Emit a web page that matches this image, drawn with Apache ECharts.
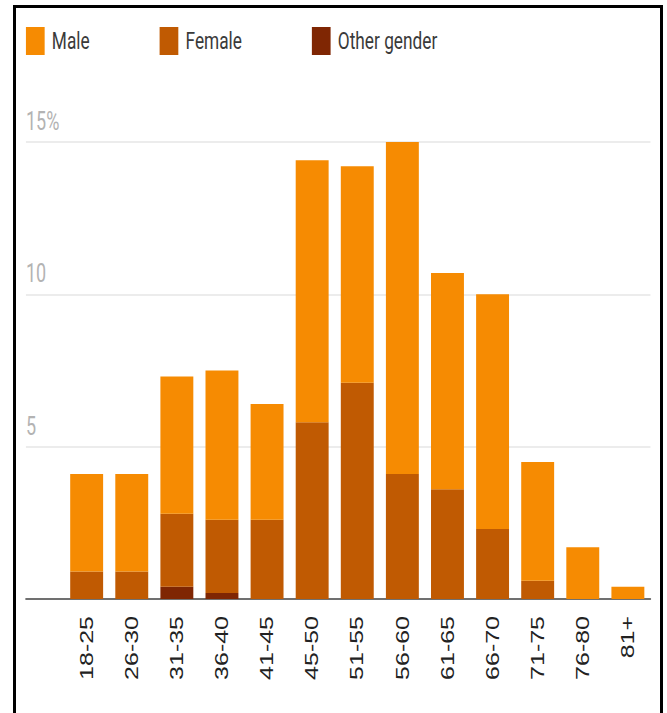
<!DOCTYPE html>
<html>
<head>
<meta charset="utf-8">
<script src="https://cdn.jsdelivr.net/npm/echarts@6/dist/echarts.min.js"></script>
<style>
  html, body { margin: 0; padding: 0; background: #fff; }
  #stage { position: relative; width: 667px; height: 713px; overflow: hidden; background: #fff; }
  /* chart is laid out on a wider canvas and squeezed horizontally */
  #chart { position: absolute; left: 0; top: 0; width: 926px; height: 713px;
           transform: scaleX(0.7203); transform-origin: 0 0; }
  #frame { position: absolute; left: 13px; top: 5px; width: 650px; height: 760px;
           box-sizing: border-box; border: 3px solid #000; pointer-events: none; }
</style>
</head>
<body>
<div id="stage">
  <div id="chart"></div>
  <div id="frame"></div>
</div>
<script>
// Share of respondents (%) by age group and gender
const categories = ['18-25', '26-30', '31-35', '36-40', '41-45', '45-50', '51-55',
                    '56-60', '61-65', '66-70', '71-75', '76-80', '81+'];
const male   = [3.2, 3.2, 4.5, 4.9, 3.8, 8.6, 7.1, 10.9, 7.1, 7.7, 3.9, 1.7, 0.4];
const female = [0.9, 0.9, 2.4, 2.4, 2.6, 5.8, 7.1, 4.1, 3.6, 2.3, 0.6, 0, 0];
const other  = [0, 0, 0.4, 0.2, 0, 0, 0, 0, 0, 0, 0, 0, 0];
const yMax = 15;
const yStep = 5;

const colors = { male: '#f68b02', female: '#c05a02', other: '#7f2603' };

const chart = echarts.init(document.getElementById('chart'), null, { renderer: 'svg' });

chart.setOption({
  backgroundColor: '#fff',
  animation: false,
  legend: {
    data: ['Male', 'Female', 'Other gender'],
    left: 36,
    top: 27,
    padding: 0,
    icon: 'rect',
    itemWidth: 26,
    itemHeight: 28,
    itemGap: 97,
    textStyle: { fontFamily: 'Roboto', fontSize: 24, color: '#3a3a3a', padding: [0, 0, 0, 5] }
  },
  grid: [
    // background grid: gridlines, value labels and baseline
    { left: 36, right: 23, top: 142, bottom: 114 },
    // bar grid
    { left: 89, right: 23, top: 142, bottom: 114 }
  ],
  xAxis: [
    {
      gridIndex: 0, type: 'value', min: 0, max: 1,
      axisLine: { show: true, lineStyle: { color: '#707070', width: 2 } },
      axisTick: { show: false }, axisLabel: { show: false }, splitLine: { show: false }
    },
    {
      gridIndex: 1, type: 'category', data: categories,
      axisLine: { show: false }, axisTick: { show: false },
      axisLabel: {
        rotate: 90, margin: 17, interval: 0,
        fontFamily: 'Liberation Sans, Arial, sans-serif', fontSize: 25, color: '#222'
      }
    }
  ],
  yAxis: [
    {
      gridIndex: 0, type: 'value', min: 0, max: yMax, interval: yStep,
      axisLine: { show: false }, axisTick: { show: false },
      axisLabel: {
        inside: true, margin: 0, align: 'left', verticalAlign: 'bottom',
        padding: [0, 0, 8, 0],
        fontFamily: 'Roboto', fontSize: 25, color: '#b3b3b3',
        formatter: v => v === 0 ? '' : (v === yMax ? v + '%' : String(v))
      },
      splitLine: { show: true, lineStyle: { color: '#e6e6e6', width: 1.5 } }
    },
    {
      gridIndex: 1, type: 'value', min: 0, max: yMax, show: false,
      splitLine: { show: false }
    }
  ],
  series: [
    { name: 'Other gender', type: 'bar', stack: 'g', xAxisIndex: 1, yAxisIndex: 1,
      barWidth: '73%', data: other, itemStyle: { color: colors.other } },
    { name: 'Female', type: 'bar', stack: 'g', xAxisIndex: 1, yAxisIndex: 1,
      barWidth: '73%', data: female, itemStyle: { color: colors.female } },
    { name: 'Male', type: 'bar', stack: 'g', xAxisIndex: 1, yAxisIndex: 1,
      barWidth: '73%', data: male, itemStyle: { color: colors.male } }
  ]
});
</script>
</body>
</html>
